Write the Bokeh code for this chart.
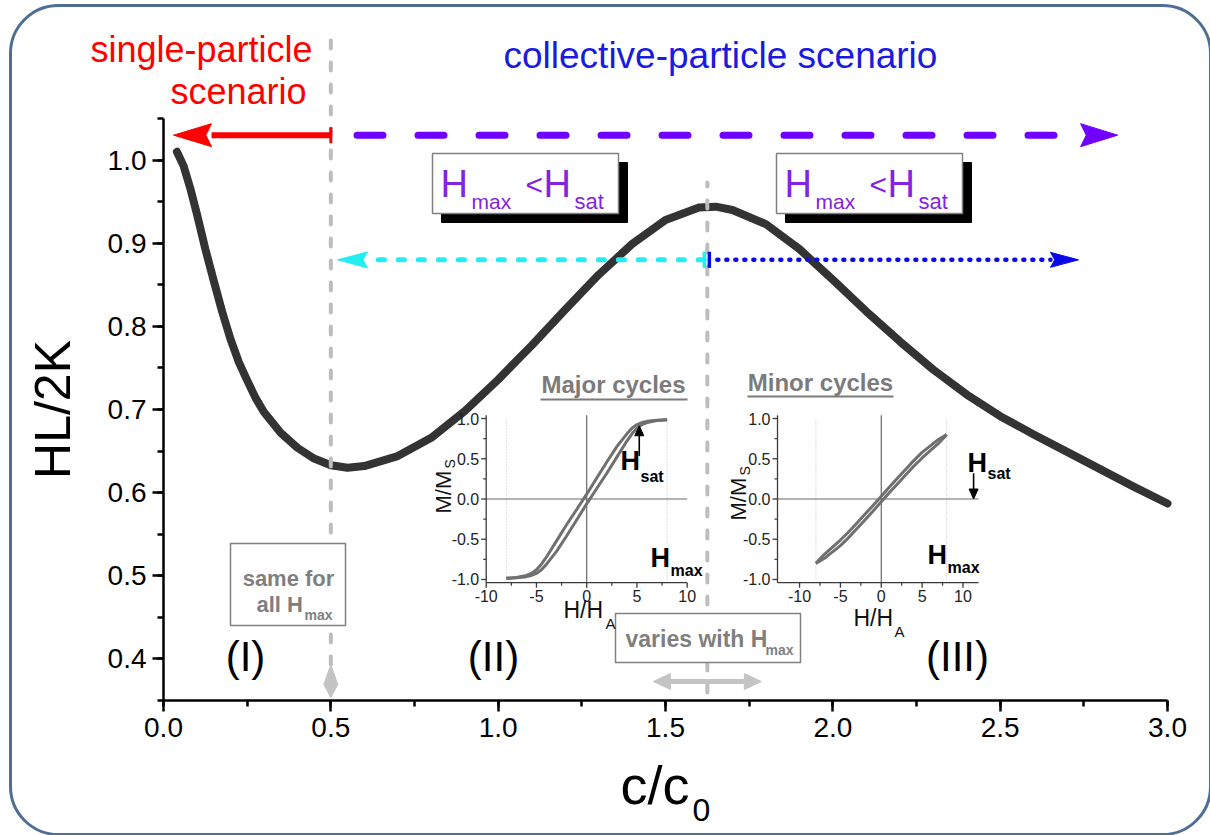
import numpy as np
from bokeh.plotting import figure
from bokeh.models import Range1d, SingleIntervalTicker, PrintfTickFormatter, BoxAnnotation
from bokeh.core.properties import value
from bokeh.embed import file_html
from bokeh.resources import INLINE

# ---------------- data ----------------
c_over_c0 = [0.04, 0.06, 0.08, 0.10, 0.125, 0.15, 0.175, 0.20, 0.225, 0.25, 0.275, 0.30, 0.35,
             0.40, 0.45, 0.50, 0.55, 0.60, 0.70, 0.80, 0.90, 1.00, 1.10,
             1.20, 1.30, 1.40, 1.50, 1.60, 1.65, 1.70, 1.80, 1.90, 2.00,
             2.10, 2.20, 2.30, 2.40, 2.50, 2.60, 2.70, 2.80, 2.90, 3.00]
hl_over_2k = [1.010, 0.993, 0.966, 0.935, 0.893, 0.855, 0.818, 0.785, 0.757, 0.735, 0.714, 0.697, 0.672,
              0.654, 0.641, 0.633, 0.630, 0.632, 0.644, 0.666, 0.698, 0.736, 0.777,
              0.820, 0.862, 0.899, 0.928, 0.943, 0.944, 0.940, 0.923, 0.893, 0.856,
              0.818, 0.782, 0.748, 0.718, 0.692, 0.670, 0.649, 0.628, 0.607, 0.587]

single_limit = 0.5      # end of the single-particle regime
peak_c = 1.625          # position of the HL maximum
scenario_level = 1.03   # level of the scenario arrows
cycle_level = 0.88      # level of the cycle-type arrows

# hysteresis loops of the insets (H/H_A, M/M_S)
h_max = 8.0
major_h = [-8, -7, -6, -5.5, -5, -4.5, -4, -3, -2, -1, 0, 1, 2, 3, 4, 4.5, 5, 5.5, 6, 7, 8]
major_up = [-0.985, -0.98, -0.965, -0.95, -0.925, -0.88, -0.81, -0.65, -0.46, -0.26, -0.06,
            0.13, 0.32, 0.52, 0.72, 0.81, 0.88, 0.925, 0.95, 0.975, 0.985]
major_down = [-0.985, -0.975, -0.95, -0.925, -0.88, -0.81, -0.72, -0.52, -0.32, -0.13, 0.06,
              0.26, 0.46, 0.65, 0.81, 0.88, 0.925, 0.95, 0.965, 0.98, 0.985]
minor_h = [-8, -7, -6, -5, -4, -3, -2, -1, 0, 1, 2, 3, 4, 5, 6, 7, 8]
minor_up = [-0.80, -0.74, -0.66, -0.58, -0.48, -0.37, -0.26, -0.15, -0.035,
            0.08, 0.19, 0.30, 0.41, 0.51, 0.60, 0.69, 0.80]
minor_down = [-0.80, -0.69, -0.60, -0.51, -0.41, -0.30, -0.19, -0.08, 0.035,
              0.15, 0.26, 0.37, 0.48, 0.58, 0.66, 0.74, 0.80]
inset_h_ticks = [-10, -5, 0, 5, 10]
inset_h_labels = ["-10", "-5", "0", "5", "10"]
inset_h_minor = [-7.5, -2.5, 2.5, 7.5]
inset_m_ticks = [-1.0, -0.5, 0.0, 0.5, 1.0]
inset_m_labels = ["-1.0", "-0.5", "0.0", "0.5", "1.0"]
inset_m_minor = [-0.75, -0.25, 0.25, 0.75]
major_sat = (5.23, 0.535, 0.91)   # H_sat marker: H, arrow start M, arrow tip M
minor_sat = (11.3, 0.32, 0.0)

# ---------------- canvas geometry ----------------
W, H = 1210, 835
X0, SX = 163.0, 334.67      # pixel of c/c0 = 0, pixels per unit
Y0, SY = 700.0, 831.4       # pixel of HL/2K = 0.35, pixels per unit


def X(px):
    return (px - X0) / SX


def Y(py):
    return 0.35 + (Y0 - py) / SY


FONT = value("Liberation Sans")

p = figure(width=W, height=H, x_range=Range1d(X(0), X(W)), y_range=Range1d(Y(H), Y(0)),
           min_border=0, toolbar_location=None, output_backend="svg")
p.outline_line_color = None
p.background_fill_color = "white"
p.border_fill_color = "white"
p.xgrid.visible = False
p.ygrid.visible = False

# main axes, drawn inside the canvas at fixed positions
xa, ya = p.xaxis[0], p.yaxis[0]
xa.fixed_location = 0.35
ya.fixed_location = 0.0
xa.bounds = (0.0, 3.0)
ya.bounds = (0.35, 1.05)
xa.ticker = SingleIntervalTicker(interval=0.5, num_minor_ticks=2)
ya.ticker = SingleIntervalTicker(interval=0.1, num_minor_ticks=2)
xa.formatter = PrintfTickFormatter(format="%.1f")
ya.formatter = PrintfTickFormatter(format="%.1f")
for ax in (xa, ya):
    ax.axis_line_width = 2.5
    ax.axis_line_color = "black"
    ax.major_tick_line_width = 2.5
    ax.minor_tick_line_width = 2.5
    ax.major_tick_in = 0
    ax.major_tick_out = 11
    ax.minor_tick_in = 0
    ax.minor_tick_out = 6
    ax.major_label_text_font = "Liberation Sans"
    ax.major_label_text_font_size = "28px"
    ax.major_label_text_color = "black"
    ax.major_label_standoff = 6
ya.axis_label = "HL/2K"
ya.axis_label_text_font = "Liberation Sans"
ya.axis_label_text_font_size = "50px"
ya.axis_label_text_font_style = "normal"
ya.axis_label_text_color = "black"
ya.axis_label_standoff = 24


def txt(s, px, py, size, color, align="left", style="normal", angle=0.0):
    """Place a text by its baseline position given in canvas pixels."""
    if angle:
        px, py = px - 0.36 * size, py
    else:
        py = py - 0.36 * size
    p.text(x=[X(px)], y=[Y(py)], text=[s], text_font=FONT, text_font_size=f"{size}px",
           text_color=color, text_align=align, text_baseline="middle",
           text_font_style=style, angle=angle)


def hhead(x_tip, y, direction, length, half, color, notch=0.85):
    bx = x_tip - direction * length / SX
    nx = x_tip - direction * notch * length / SX
    p.patch([x_tip, bx, nx, bx], [y, y + half / SY, y, y - half / SY],
            fill_color=color, line_color=color, line_width=1)
    return bx


def tee(x, y, half, color, width):
    p.segment(x0=[x], y0=[y - half / SY], x1=[x], y1=[y + half / SY],
              line_color=color, line_width=width)


# x-axis title c/c0
txt("c/c", 620, 804, 54, "black")
txt("0", 692, 821, 32, "black")

# ---------------- main curve ----------------
p.line(c_over_c0, hl_over_2k, line_color="#333333", line_width=8, line_cap="round",
       line_join="round")

# vertical guides
gray = "#bdbdbd"
p.segment(x0=[single_limit, peak_c], y0=[Y(664), Y(692)], x1=[single_limit, peak_c],
          y1=[Y(40), Y(182)], line_color=gray, line_width=4, line_dash="8 14", line_cap="round")

# diamond marker under the single-particle limit
p.patch([single_limit, single_limit + 7 / SX, single_limit, single_limit - 7 / SX],
        [Y(664), Y(684), Y(697), Y(684)], fill_color="#c4c4c4", line_color="#c4c4c4")

# horizontal double arrow under the peak
lvl = Y(681)
l_end = hhead(peak_c - 54 / SX, lvl, -1, 17, 8, "#c4c4c4", notch=1.0)
r_end = hhead(peak_c + 54 / SX, lvl, 1, 17, 8, "#c4c4c4", notch=1.0)
p.segment(x0=[l_end], y0=[lvl], x1=[r_end], y1=[lvl], line_color="#c4c4c4", line_width=5)

# scenario arrows
red = "#ff0000"
purple = "#7000ff"
base = hhead(0.03, scenario_level, -1, 38, 11.5, red)
p.segment(x0=[single_limit], y0=[scenario_level], x1=[base], y1=[scenario_level],
          line_color=red, line_width=6)
tee(single_limit, scenario_level, 8, red, 3)
base = hhead(2.851, scenario_level, 1, 37, 11.5, purple)
p.line([X(356.5), base], [scenario_level, scenario_level], line_color=purple, line_width=7,
       line_dash="26 35", line_cap="round")

# cycle-type arrows
cyan = "#22eef2"
blue = "#0a0ae8"
base = hhead(0.52, cycle_level, -1, 30, 8, cyan)
p.line([peak_c - 3 / SX, base], [cycle_level, cycle_level], line_color=cyan, line_width=5,
       line_dash="6 14", line_cap="round")
tee(peak_c - 3 / SX, cycle_level, 8, cyan, 3.5)
base = hhead(2.734, cycle_level, 1, 28, 7.5, blue)
p.line([peak_c + 10 / SX, base], [cycle_level, cycle_level], line_color=blue, line_width=4.5,
       line_dash="1 8", line_cap="round")
tee(peak_c + 2 / SX, cycle_level, 8, blue, 3.5)


# ---------------- text boxes ----------------
def box(l, t, r, b, shadow=0, border="#808080"):
    if shadow:
        p.quad(left=[X(l + shadow)], right=[X(r + shadow)], top=[Y(t + shadow)],
               bottom=[Y(b + shadow)], fill_color="black", line_color="black")
    p.quad(left=[X(l)], right=[X(r)], top=[Y(t)], bottom=[Y(b)], fill_color="white",
           line_color=border, line_width=1.5)


violet = "#8224e3"
for left in (432, 776):
    box(left, 153, left + 186, 213, shadow=9)
    txt("H", left + 8, 197, 38, violet)
    txt("max", left + 39, 209, 21, violet)
    txt("<", left + 93, 195, 30, violet)
    txt("H", left + 111, 197, 38, violet)
    txt("sat", left + 142, 209, 22, violet)

gtxt = "#7f7f7f"
box(230, 543, 345, 625)
txt("same for", 288, 586, 22, gtxt, align="center", style="bold")
txt("all H", 256, 612, 22, gtxt, style="bold")
txt("max", 304, 620, 14, gtxt, style="bold")

box(615, 613, 800, 662)
txt("varies with H", 625, 647, 23, gtxt, style="bold")
txt("max", 765, 655, 14, gtxt, style="bold")

# scenario titles and regime labels
txt("single-particle", 312, 62, 36, red, align="right")
txt("scenario", 306, 104, 36, red, align="right")
txt("collective-particle scenario", 503, 68, 37, "#1a1ae0")
txt("(I)", 245, 671, 42, "black", align="center")
txt("(II)", 493, 671, 42, "black", align="center")
txt("(III)", 957, 671, 42, "black", align="center")

# ---------------- hysteresis insets ----------------
M_LO, M_HI = -1.04, 1.04
IN_TOP, IN_BOT = 414.8, 582.2


def inset(h_lo, h_hi, px_l, px_r, h, up, down, sat):
    sub = p.subplot(x_source=Range1d(h_lo, h_hi), y_source=Range1d(M_LO, M_HI),
                    x_target=Range1d(X(px_l), X(px_r)), y_target=Range1d(Y(IN_BOT), Y(IN_TOP)))
    kx = (px_r - px_l) / (h_hi - h_lo)
    ky = (IN_BOT - IN_TOP) / (M_HI - M_LO)
    sub.segment(x0=[-h_max, h_max], y0=[-1.0, -1.0], x1=[-h_max, h_max], y1=[1.0, 1.0],
                line_color="#c8c8c8", line_width=1.2, line_dash="1 2")
    sub.segment(x0=[0, h_lo], y0=[M_LO, 0], x1=[0, h_hi], y1=[M_HI, 0],
                line_color="#6a6a6a", line_width=1.2)
    sub.segment(x0=[h_lo, h_lo], y0=[M_LO, M_LO], x1=[h_lo, h_hi], y1=[M_HI, M_LO],
                line_color="#3a3a3a", line_width=1.3)
    sub.ray(x=inset_h_ticks, y=M_LO, length=5, length_units="screen", angle=-np.pi / 2,
            line_color="#3a3a3a", line_width=1.3)
    sub.ray(x=inset_h_minor, y=M_LO, length=3, length_units="screen", angle=-np.pi / 2,
            line_color="#3a3a3a", line_width=1.2)
    sub.ray(x=h_lo, y=inset_m_ticks, length=5, length_units="screen", angle=np.pi,
            line_color="#3a3a3a", line_width=1.3)
    sub.ray(x=h_lo, y=inset_m_minor, length=3, length_units="screen", angle=np.pi,
            line_color="#3a3a3a", line_width=1.2)
    sub.text(x=inset_h_ticks, y=M_LO, text=inset_h_labels, y_offset=7, text_align="center",
             text_baseline="top", text_font=FONT, text_font_size="16px", text_color="#222222")
    sub.text(x=h_lo, y=inset_m_ticks, text=inset_m_labels, x_offset=-7, text_align="right",
             text_baseline="middle", text_font=FONT, text_font_size="16px", text_color="#222222")
    sub.line(h, up, line_color="#707070", line_width=3)
    sub.line(h, down, line_color="#707070", line_width=3)
    # H_sat arrow
    hx, m0, m1 = sat
    d = 1 if m1 > m0 else -1
    hb = m1 - d * 10 / ky
    sub.segment(x0=[hx], y0=[m0], x1=[hx], y1=[hb], line_color="black", line_width=1.6)
    sub.patch([hx, hx + 4.5 / kx, hx - 4.5 / kx], [m1, hb, hb], fill_color="black",
              line_color="black")


inset(-10, 10, 485.7, 686.7, major_h, major_up, major_down, major_sat)
inset(-12.7, 11.9, 777, 978, minor_h, minor_up, minor_down, minor_sat)

g2 = "#7b7b7b"
txt("Major cycles", 613, 393, 24, g2, align="center", style="bold")
p.segment(x0=[X(540)], y0=[Y(399)], x1=[X(687)], y1=[Y(399)], line_color=g2, line_width=2)
txt("Minor cycles", 820, 391, 24, g2, align="center", style="bold")
p.segment(x0=[X(747)], y0=[Y(396)], x1=[X(893)], y1=[Y(396)], line_color=g2, line_width=2)

# inset axis titles
for (bx_, by_, sx_, sy_) in ((451, 513, 455, 468), (746, 520, 750, 475)):
    txt("M/M", bx_, by_, 22, "#111111", angle=np.pi / 2)
    txt("S", sx_, sy_, 14, "#111111", angle=np.pi / 2)
for (hx_, hy_, ax_, ay_) in ((563, 618, 605, 628), (853, 626, 894, 636)):
    txt("H/H", hx_, hy_, 23, "#111111")
    txt("A", ax_, ay_, 15, "#111111")

# H_sat / H_max markers inside the insets
for (hx_, hy_, sx_, sy_, sub_t) in ((620, 470, 640, 482, "sat"), (650, 567, 670, 576, "max"),
                                    (967, 472, 987, 479, "sat"), (927, 564, 947, 573, "max")):
    txt("H", hx_, hy_, 27, "black", style="bold")
    txt(sub_t, sx_, sy_, 16, "black", style="bold")

# rounded frame around the figure
p.add_layout(BoxAnnotation(left=X(10), right=X(1210), top=Y(5), bottom=Y(834),
                           fill_alpha=0, line_color="#4e6e96", line_alpha=1.0, line_width=3,
                           border_radius=48))

open("out.html", "w").write(file_html(p, INLINE))
